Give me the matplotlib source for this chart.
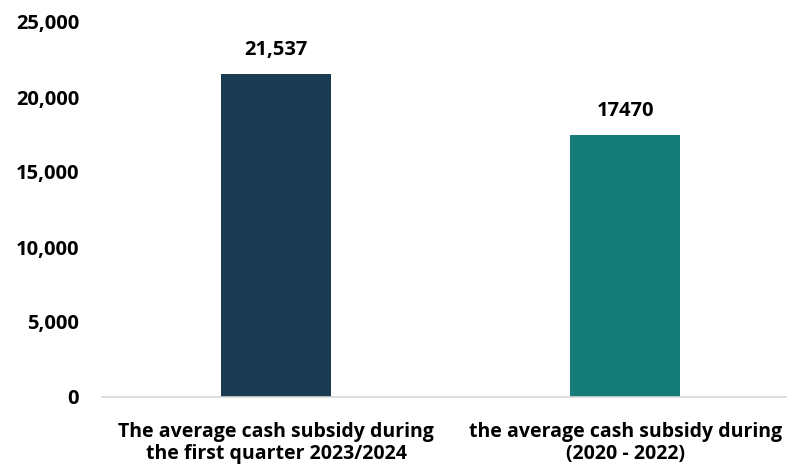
import numpy as np
import matplotlib.pyplot as plt

plt.rcParams['font.family'] = ['Open Sans', 'DejaVu Sans']
plt.rcParams['font.weight'] = 'bold'

categories = ["The average cash subsidy during\nthe first quarter 2023/2024",
              "the average cash subsidy during\n(2020 - 2022)"]
values = [21537, 17470]
value_labels = ["21,537", "17470"]
colors = ["#1b3b53", "#167c7a"]
yticks = [0, 5000, 10000, 15000, 20000, 25000]

fig = plt.figure(figsize=(7.87, 4.68), dpi=100)
ax = fig.add_axes([102/787, 71/468, 1 - 102/787, (397-22)/468])

x = np.arange(len(categories))
ax.bar(x, values, width=0.315, color=colors)

for xi, v, lab in zip(x, values, value_labels):
    ax.annotate(lab, (xi, v), xytext=(0, 17.5), textcoords='offset points',
                ha='center', va='center', fontsize=14.5, fontweight='bold')

ax.set_xlim(-0.5, 1.464)
ax.set_ylim(0, 25000)
ax.set_yticks(yticks)
ax.set_yticklabels([f"{t:,}" for t in yticks], fontsize=14.5, fontweight='bold')
ax.set_xticks(x)
ax.set_xticklabels(categories, fontsize=14, fontweight='bold', linespacing=1.1)

for s in ['top', 'right', 'left']:
    ax.spines[s].set_visible(False)
ax.spines['bottom'].set_color('#d9d9d9')
ax.spines['bottom'].set_linewidth(1.2)
ax.tick_params(axis='both', length=0)
ax.tick_params(axis='y', pad=16.5)
ax.tick_params(axis='x', pad=18)

fig.savefig('out.png', dpi=100)
